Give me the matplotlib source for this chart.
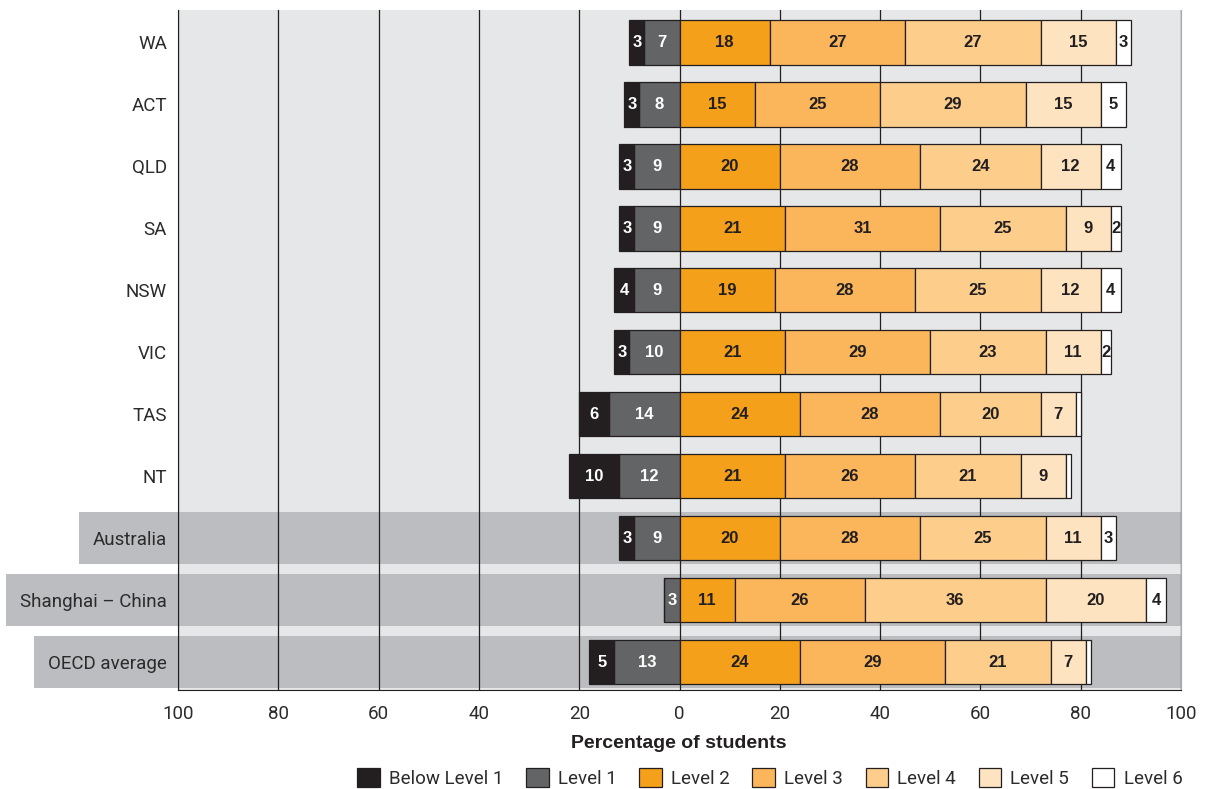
import matplotlib.pyplot as plt
from matplotlib.patches import Patch, Rectangle
from matplotlib.ticker import FuncFormatter

# Data: percentage of students at each proficiency level
regions = ["WA", "ACT", "QLD", "SA", "NSW", "VIC", "TAS", "NT",
           "Australia", "Shanghai – China", "OECD average"]
below1 = [3, 3, 3, 3, 4, 3, 6, 10, 3, 0, 5]
level1 = [7, 8, 9, 9, 9, 10, 14, 12, 9, 3, 13]
level2 = [18, 15, 20, 21, 19, 21, 24, 21, 20, 11, 24]
level3 = [27, 25, 28, 31, 28, 29, 28, 26, 28, 26, 29]
level4 = [27, 29, 24, 25, 25, 23, 20, 21, 25, 36, 21]
level5 = [15, 15, 12, 9, 12, 11, 7, 9, 11, 20, 7]
level6 = [3, 5, 4, 2, 4, 2, 1, 1, 3, 4, 1]
highlight = ["Australia", "Shanghai – China", "OECD average"]

level_names = ["Below Level 1", "Level 1", "Level 2", "Level 3",
               "Level 4", "Level 5", "Level 6"]
colors = ["#231f20", "#636466", "#f5a01a", "#fbb65b",
          "#fdcd8c", "#fee3c0", "#ffffff"]

plt.rcParams['font.family'] = ['Roboto', 'DejaVu Sans']
label_font = ['Liberation Sans Narrow', 'Liberation Sans', 'DejaVu Sans']
dark = "#231f20"
text_col = "#2b2b2b"

fig = plt.figure(figsize=(12.05, 7.89), dpi=100)
ax = fig.add_axes([178 / 1205, 1 - 690 / 789, 1003 / 1205, 680 / 789])
ax.set_facecolor("#e6e7e8")

y = list(range(len(regions)))
bar_h = 0.72

# negative side: Level 1 next to zero, Below Level 1 further left
ax.barh(y, [-v for v in level1], height=bar_h, color=colors[1],
        edgecolor=dark, linewidth=0.9, zorder=3)
ax.barh(y, [-v for v in below1], left=[-v for v in level1], height=bar_h,
        color=colors[0], edgecolor=dark, linewidth=0.9, zorder=3)

# positive side
pos_levels = [level2, level3, level4, level5, level6]
left = [0] * len(regions)
for i, vals in enumerate(pos_levels):
    ax.barh(y, vals, left=left, height=bar_h, color=colors[i + 2],
            edgecolor=dark, linewidth=0.9, zorder=3)
    for j, v in enumerate(vals):
        if v >= 2:
            ax.text(left[j] + v / 2, y[j], str(v), ha="center", va="center",
                    fontsize=12, fontweight="bold", color=dark,
                    family=label_font, zorder=4)
    left = [l + v for l, v in zip(left, vals)]

for j in range(len(regions)):
    if level1[j] >= 2:
        ax.text(-level1[j] / 2, y[j], str(level1[j]), ha="center", va="center",
                fontsize=12, fontweight="bold", color="white",
                family=label_font, zorder=4)
    if below1[j] >= 2:
        ax.text(-level1[j] - below1[j] / 2, y[j], str(below1[j]), ha="center",
                va="center", fontsize=12, fontweight="bold", color="white",
                family=label_font, zorder=4)

ax.set_xlim(-100, 100)
ax.set_ylim(len(regions) - 0.55, -0.52)
ax.set_xticks(range(-100, 101, 20))
ax.xaxis.set_major_formatter(FuncFormatter(lambda v, p: f"{abs(v):.0f}"))
ax.set_yticks(y)
ax.set_yticklabels(regions)
ax.tick_params(axis="both", length=0, labelsize=13.5, labelcolor=text_col)
ax.tick_params(axis="x", pad=11)
ax.tick_params(axis="y", pad=8)

ax.set_axisbelow(True)
ax.xaxis.grid(True, color=dark, linewidth=0.9)

ax.spines["top"].set_visible(False)
ax.spines["left"].set_color(dark)
ax.spines["bottom"].set_color(dark)
ax.spines["right"].set_color("#a7a9ac")

fig.text(679 / 1205, 1 - 744 / 789, "Percentage of students", ha="center",
         va="center", fontsize=14, fontweight="bold", color=dark,
         family=label_font)

handles = [Patch(facecolor=c, edgecolor=dark, linewidth=0.9) for c in colors]
fig.legend(handles, level_names, ncol=7, loc="center right",
           bbox_to_anchor=(1190 / 1205, 1 - 778 / 789), frameon=False,
           fontsize=13.5, handlelength=1.2, handleheight=1.2, handletextpad=0.5,
           columnspacing=1.2, labelcolor=text_col, borderaxespad=0)

# highlight bands reaching out behind the region labels
fig.canvas.draw()
renderer = fig.canvas.get_renderer()
inv = ax.transData.inverted()
for lab in ax.get_yticklabels():
    name = lab.get_text()
    if name in highlight:
        bb = lab.get_window_extent(renderer)
        x_left = inv.transform((bb.x0 - 14, 0))[0]
        j = regions.index(name)
        ax.add_patch(Rectangle((x_left, j - 0.42), 100 - x_left, 0.84,
                               facecolor="#bcbdc0", edgecolor="none",
                               clip_on=False, zorder=0.3))

fig.savefig("out.png", dpi=100)
